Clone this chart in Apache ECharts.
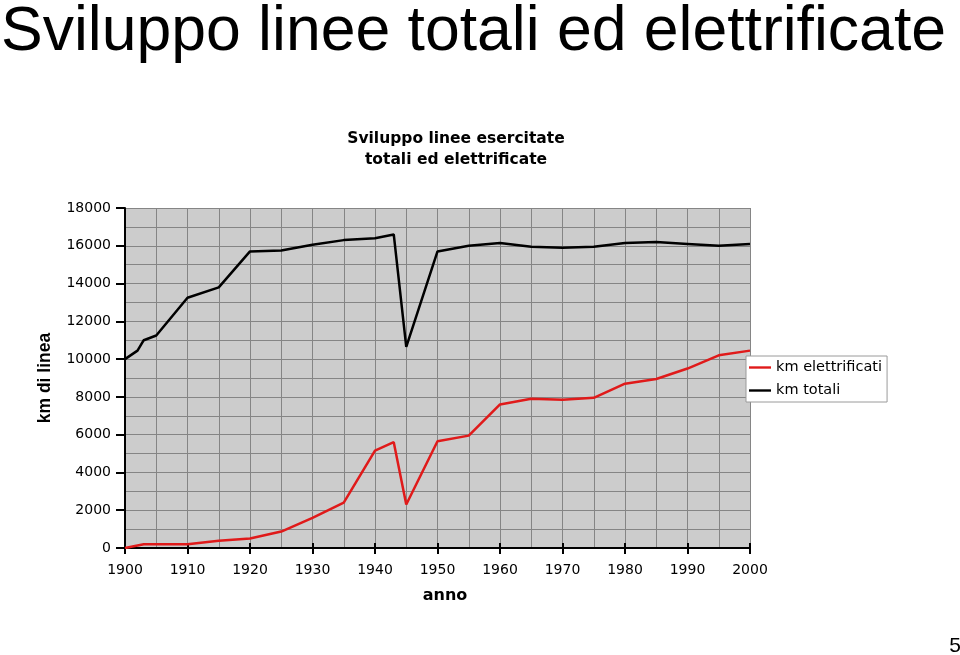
<!DOCTYPE html>
<html>
<head>
<meta charset="utf-8">
<style>
  html, body { margin: 0; padding: 0; background: #ffffff; }
  #chart { width: 960px; height: 655px; }
</style>
<script src="https://cdn.jsdelivr.net/npm/echarts@6/dist/echarts.min.js"></script>
</head>
<body>
<div id="chart"></div>
<script>
// Data
const totalYears = [1900, 1902, 1903, 1905, 1910, 1915, 1920, 1925, 1930, 1935, 1940, 1943, 1945, 1950, 1955, 1960, 1965, 1970, 1975, 1980, 1985, 1990, 1995, 2000];
const totalKm    = [10000, 10450, 11000, 11250, 13250, 13800, 15700, 15750, 16050, 16300, 16400, 16600, 10650, 15700, 16000, 16150, 15950, 15900, 15950, 16150, 16200, 16100, 16000, 16100];

const elecYears  = [1900, 1903, 1910, 1915, 1920, 1925, 1930, 1935, 1940, 1943, 1945, 1950, 1955, 1960, 1965, 1970, 1975, 1980, 1985, 1990, 1995, 2000];
const elecKm     = [0, 200, 200, 380, 500, 870, 1600, 2400, 5150, 5600, 2300, 5650, 5950, 7600, 7900, 7850, 7950, 8700, 8950, 9500, 10200, 10450];

const seriesNames = ['km elettrificati', 'km totali'];
const pageTitle = 'Sviluppo linee totali ed elettrificate';
const chartTitle = 'Sviluppo linee esercitate\ntotali ed elettrificate';
const xName = 'anno';
const yName = 'km di linea';
const pageNumber = '5';

const pair = (xs, ys) => xs.map((x, i) => [x, ys[i]]);

const chart = echarts.init(document.getElementById('chart'), null, { renderer: 'canvas' });

const gridLine = { color: '#858585', width: 1 };
const lineIcon = 'path://M0,0H23V2.5H0Z';

chart.setOption({
  animation: false,
  backgroundColor: '#ffffff',
  graphic: [
    {
      type: 'text', left: 1, top: 1, silent: true,
      style: { text: pageTitle, fontFamily: 'Liberation Sans, Arial, sans-serif', fontSize: 62.5, fill: '#000' }
    },
    {
      type: 'text', x: 456, y: 149, silent: true,
      style: { text: chartTitle, align: 'center', verticalAlign: 'middle', lineHeight: 21,
               fontFamily: 'DejaVu Sans, sans-serif', fontWeight: 'bold', fontSize: 15.5, fill: '#000' }
    },
    {
      type: 'text', x: 445, y: 596, silent: true,
      style: { text: xName, align: 'center', verticalAlign: 'middle',
               fontFamily: 'DejaVu Sans, sans-serif', fontWeight: 'bold', fontSize: 16, fill: '#000' }
    },
    {
      type: 'text', x: 961, y: 646, silent: true,
      style: { text: pageNumber, align: 'right', verticalAlign: 'middle',
               fontFamily: 'Liberation Sans, Arial, sans-serif', fontSize: 21, fill: '#000' }
    }
  ],
  legend: {
    orient: 'vertical',
    left: 746, top: 356,
    padding: [4, 5, 4, 3],
    itemWidth: 22, itemHeight: 14, itemGap: 8,
    symbolKeepAspect: true,
    backgroundColor: '#ffffff',
    borderColor: '#9a9a9a', borderWidth: 1,
    textStyle: { fontFamily: 'DejaVu Sans, sans-serif', fontSize: 14.5, color: '#000' },
    data: [
      { name: seriesNames[0], icon: lineIcon },
      { name: seriesNames[1], icon: lineIcon }
    ]
  },
  grid: {
    left: 125, right: 210, top: 208, bottom: 107,
    show: true, backgroundColor: '#cccccc', borderWidth: 0
  },
  xAxis: [
    {
      type: 'value', min: 1900, max: 2000, interval: 10,
      axisLine: { show: true, onZero: false, lineStyle: { color: '#000', width: 2 } },
      axisTick: { show: true, length: 6, lineStyle: { color: '#000', width: 2 } },
      axisLabel: { margin: 15, color: '#000', fontFamily: 'DejaVu Sans, sans-serif', fontSize: 14,
                   formatter: v => String(v) },
      splitLine: { show: true, lineStyle: gridLine },
      minorTick: { show: false, splitNumber: 2 },
      minorSplitLine: { show: true, lineStyle: gridLine }
    },
    {
      type: 'value', min: 1900, max: 2000, interval: 10, position: 'bottom',
      axisLine: { show: false },
      axisTick: { show: true, inside: true, length: 5, lineStyle: { color: '#000', width: 2 } },
      axisLabel: { show: false },
      splitLine: { show: false }
    }
  ],
  yAxis: {
    type: 'value', min: 0, max: 18000, interval: 2000,
    name: yName, nameLocation: 'middle', nameGap: 71,
    nameTextStyle: { fontFamily: 'Liberation Sans, Arial, sans-serif', fontWeight: 'bold', fontSize: 17.5, color: '#000' },
    axisLine: { show: true, lineStyle: { color: '#000', width: 2 } },
    axisTick: { show: true, length: 9, lineStyle: { color: '#000', width: 2 } },
    axisLabel: { margin: 14, color: '#000', fontFamily: 'DejaVu Sans, sans-serif', fontSize: 14,
                 formatter: v => String(v) },
    splitLine: { show: true, lineStyle: gridLine },
    minorTick: { show: false, splitNumber: 2 },
    minorSplitLine: { show: true, lineStyle: gridLine }
  },
  series: [
    {
      name: seriesNames[0], type: 'line', xAxisIndex: 0,
      data: pair(elecYears, elecKm),
      symbol: 'none', smooth: false,
      lineStyle: { color: '#e01a1a', width: 2.5 },
      itemStyle: { color: '#e01a1a' }
    },
    {
      name: seriesNames[1], type: 'line', xAxisIndex: 0,
      data: pair(totalYears, totalKm),
      symbol: 'none', smooth: false,
      lineStyle: { color: '#000000', width: 2.5 },
      itemStyle: { color: '#000000' }
    }
  ]
});
</script>
</body>
</html>
